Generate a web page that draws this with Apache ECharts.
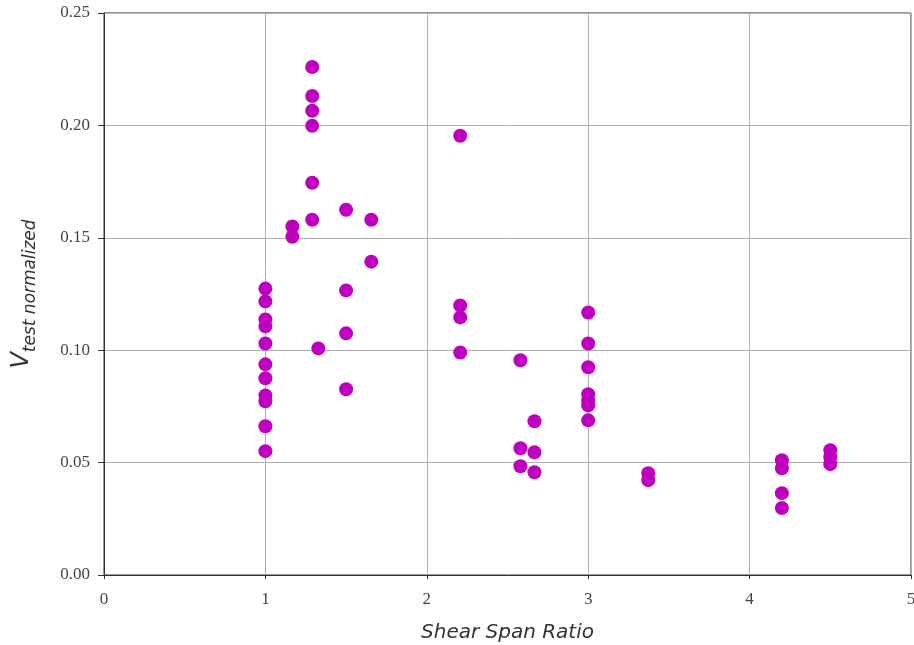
<!DOCTYPE html>
<html>
<head>
<meta charset="utf-8">
<script src="https://cdn.jsdelivr.net/npm/echarts@6/dist/echarts.min.js"></script>
<style>
  html, body { margin: 0; padding: 0; background: #fff; }
  #chart { width: 914px; height: 645px; }
</style>
</head>
<body>
<div id="chart"></div>
<script>
// shear span ratio vs normalized test shear
const spanRatio = [
  1, 1, 1, 1, 1, 1, 1, 1, 1, 1, 1,
  1.167, 1.167,
  1.29, 1.29, 1.29, 1.29, 1.29, 1.29,
  1.328,
  1.5, 1.5, 1.5, 1.5,
  1.656, 1.656,
  2.207, 2.207, 2.207, 2.207,
  2.58, 2.58, 2.58,
  2.667, 2.667, 2.667,
  3, 3, 3, 3, 3, 3, 3,
  3.372, 3.372,
  4.2, 4.2, 4.2, 4.2,
  4.5, 4.5, 4.5
]
const vNormalized = [
  0.1274, 0.1217, 0.1137, 0.1106, 0.1030, 0.0937, 0.0875, 0.0799, 0.0773, 0.0662, 0.0551,
  0.1550, 0.1505,
  0.2260, 0.2131, 0.2065, 0.1998, 0.1745, 0.1580,
  0.1008,
  0.1625, 0.1266, 0.1075, 0.0826,
  0.1580, 0.1394,
  0.1954, 0.1199, 0.1146, 0.0990,
  0.0955, 0.0564, 0.0484,
  0.0684, 0.0546, 0.0457,
  0.1168, 0.1030, 0.0924, 0.0804, 0.0777, 0.0755, 0.0688,
  0.0453, 0.0422,
  0.0511, 0.0475, 0.0364, 0.0298,
  0.0555, 0.0524, 0.0493
]

const points = spanRatio.map((x, i) => [x, vNormalized[i]])

const myChart = echarts.init(document.getElementById('chart'))

const spine = { show: true, lineStyle: { color: '#333', width: 1 } }
const grid = { show: true, lineStyle: { color: '#b0b0b0', width: 1 } }

const option = {
  animation: false,
  grid: {
    left: 104, right: 3, top: 13, bottom: 70,
    outerBoundsMode: 'none',
    containLabel: false,
    show: true, borderColor: '#333', borderWidth: 1
  },
  xAxis: {
    type: 'value',
    min: 0, max: 5, interval: 1,
    axisLine: spine,
    axisTick: { show: true, inside: false, length: 4, lineStyle: { color: '#333' } },
    splitLine: grid,
    axisLabel: {
      fontFamily: 'Liberation Serif', fontSize: 17, color: '#444', margin: 16
    },
    name: 'Shear Span Ratio',
    nameLocation: 'middle',
    nameGap: 48,
    nameTextStyle: {
      fontFamily: 'DejaVu Sans', fontStyle: 'italic', fontSize: 20, color: '#333'
    }
  },
  yAxis: {
    type: 'value',
    min: 0, max: 0.25, interval: 0.05,
    axisLine: spine,
    axisTick: { show: true, inside: false, length: 6, lineStyle: { color: '#333' } },
    splitLine: grid,
    axisLabel: {
      fontFamily: 'Liberation Serif', fontSize: 17, color: '#444', margin: 14,
      formatter: (v) => v.toFixed(2)
    },
    name: '{v|V}{s|test normalized}',
    nameLocation: 'middle',
    nameGap: 70,
    nameTextStyle: {
      rich: {
        v: { fontFamily: 'DejaVu Sans', fontStyle: 'italic', fontSize: 24, color: '#333', verticalAlign: 'bottom' },
        s: { fontFamily: 'DejaVu Sans', fontStyle: 'italic', fontSize: 17, color: '#333', verticalAlign: 'bottom', padding: [0, 0, -5, 0] }
      }
    }
  },
  series: [{
    type: 'scatter',
    data: points,
    symbolSize: 14,
    itemStyle: { color: '#bf00bf', opacity: 1 }
  }]
}

myChart.setOption(option)
</script>
</body>
</html>
